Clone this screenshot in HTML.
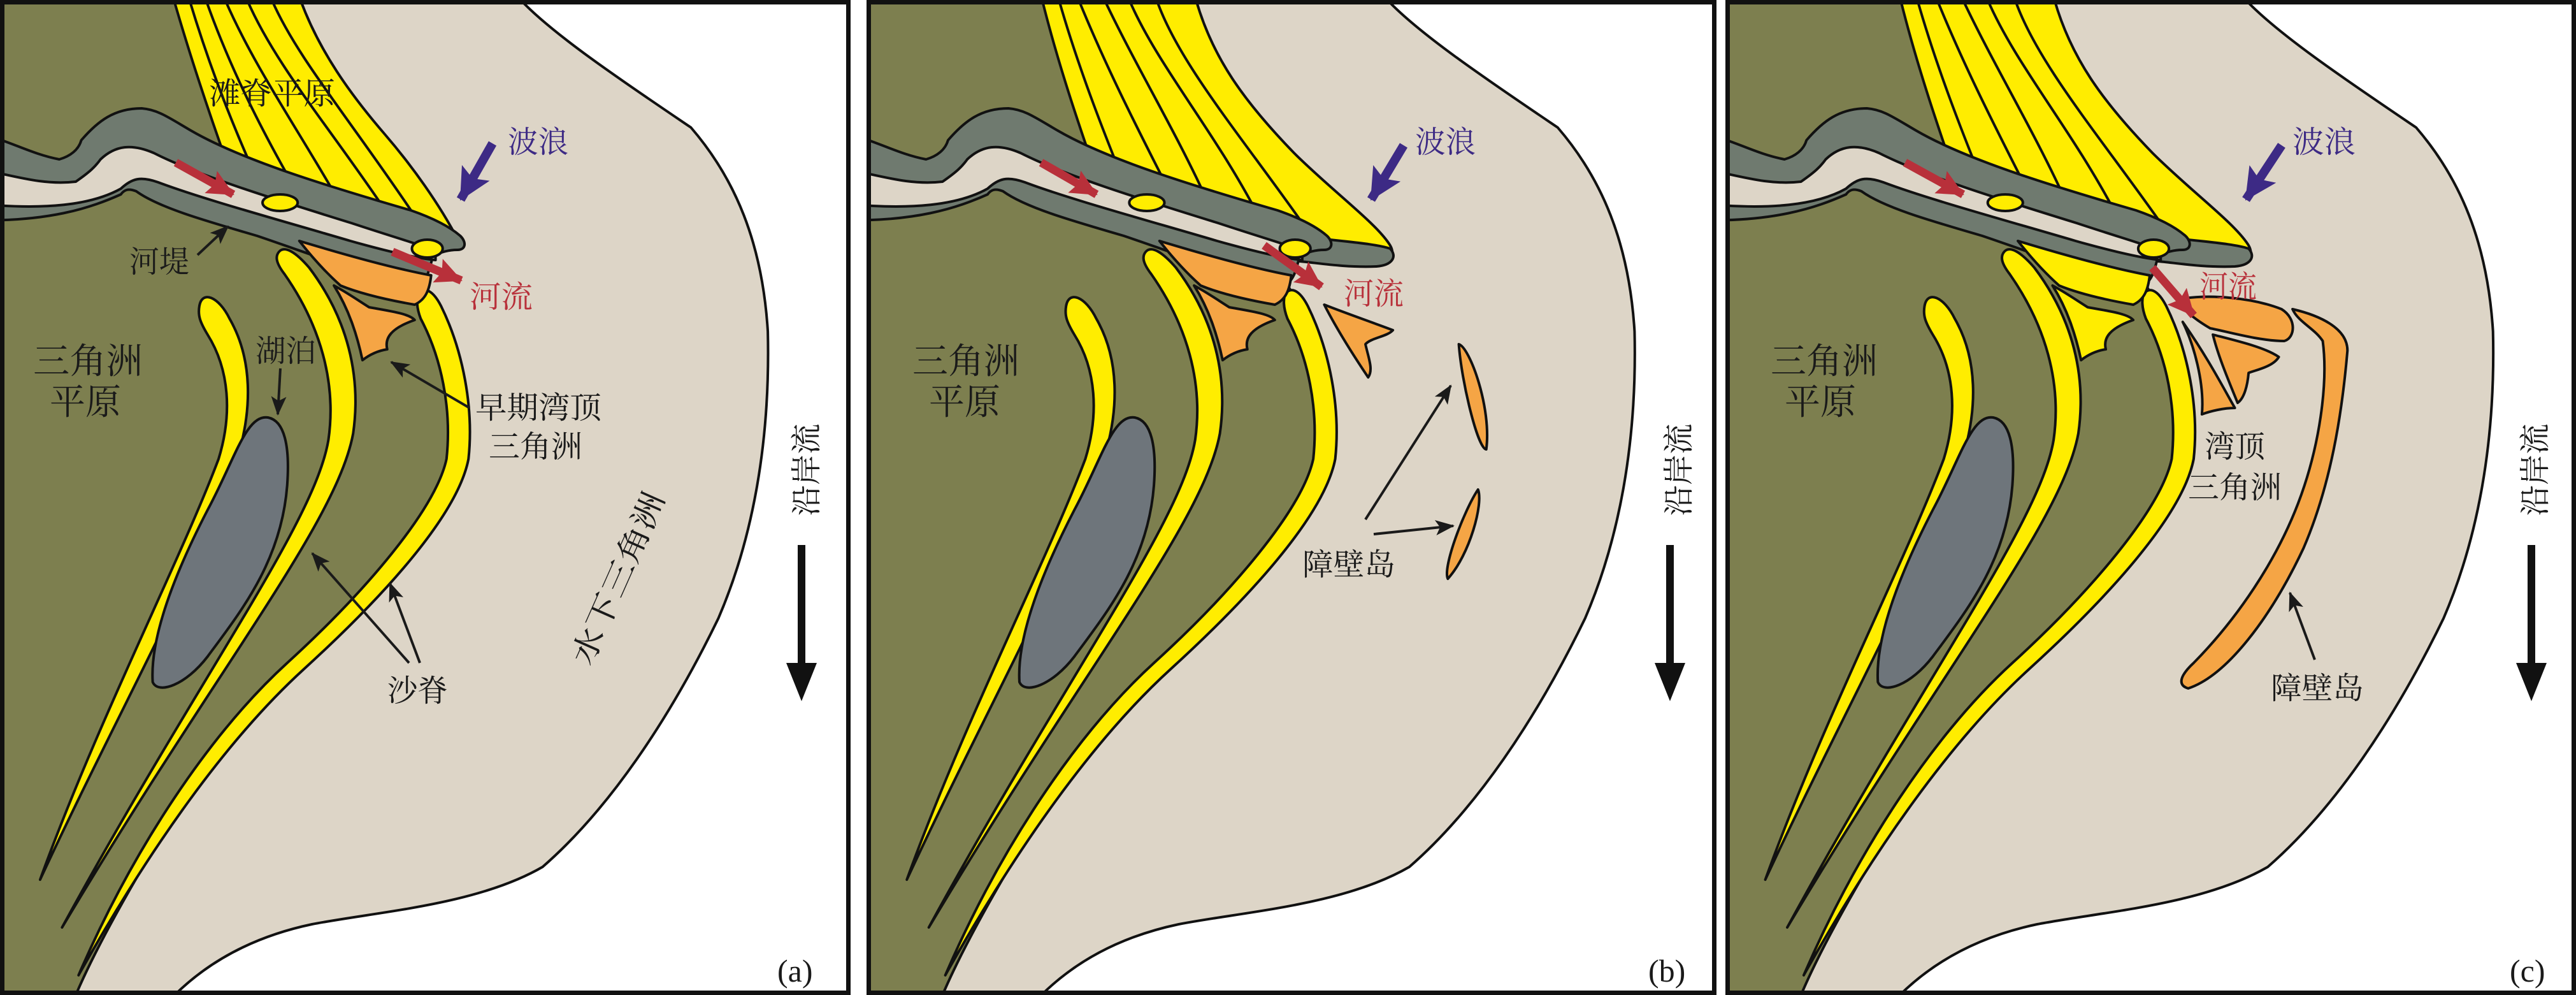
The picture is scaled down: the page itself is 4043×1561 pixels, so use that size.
<!DOCTYPE html>
<html><head><meta charset="utf-8">
<style>
html,body{margin:0;padding:0;background:#fff;}
svg{display:block;}
text{font-family:"Liberation Serif","Noto Serif CJK SC","Noto Sans CJK SC",serif;}
</style></head>
<body>
<svg width="4043" height="1561" viewBox="0 0 4043 1561" xmlns="http://www.w3.org/2000/svg">
<defs>
<clipPath id="cA" clipPathUnits="userSpaceOnUse"><rect x="0" y="0" width="1335" height="1561"/></clipPath>
<clipPath id="cB" clipPathUnits="userSpaceOnUse"><rect x="1360" y="0" width="1334" height="1561"/></clipPath>
<clipPath id="cC" clipPathUnits="userSpaceOnUse"><rect x="2708" y="0" width="1335" height="1561"/></clipPath>
<marker id="mk" markerUnits="userSpaceOnUse" markerWidth="40" markerHeight="30" refX="28" refY="12" orient="auto"><path d="M0,0 L30,12 L0,24 L7,12 Z" fill="#1a1a1a"/></marker>
<marker id="mr" markerUnits="userSpaceOnUse" markerWidth="50" markerHeight="44" refX="40" refY="20" orient="auto"><path d="M0,0 L42,20 L0,40 L7,20 Z" fill="#b8303a"/></marker>
<marker id="mp" markerUnits="userSpaceOnUse" markerWidth="60" markerHeight="60" refX="48" refY="25" orient="auto"><path d="M0,0 L50,25 L0,50 L10,25 Z" fill="#3d2a85"/></marker>

<g id="base1">
 <rect x="-50" y="0" width="1700" height="1561" fill="#fff"/>
 <path d="M600,0 L960,0 C1020,55 1150,130 1270,200 C1350,280 1400,380 1410,520 C1415,700 1380,850 1320,970 C1230,1130 1120,1270 1000,1360 C880,1420 700,1430 580,1450 C470,1470 390,1510 330,1561 L-50,1561 L-50,0 Z" fill="#ddd5c7" stroke="#111" stroke-width="4" vector-effect="non-scaling-stroke"/>
 <path d="M-50,0 L500,0 L580,150 L700,300 L780,450 C830,520 865,610 862,690 C855,770 780,860 680,950 C540,1070 400,1180 300,1320 C230,1420 180,1500 150,1561 L-50,1561 Z" fill="#7d7f4f" stroke="#111" stroke-width="4" vector-effect="non-scaling-stroke"/>
</g>

<g id="base2" stroke="#111" stroke-width="4" stroke-linejoin="round">
 <path vector-effect="non-scaling-stroke" fill="#6f7a6f" d="M-50,205 C20,215 60,240 120,250 C140,245 155,235 160,220 C190,190 220,170 270,170 C300,172 320,185 360,205 C450,250 600,290 760,330 C800,342 830,355 850,370 C862,380 860,392 845,392 C830,392 815,395 800,402 C795,420 790,440 775,446 C700,440 600,405 480,370 C380,345 300,325 260,300 C245,295 238,298 232,305 C180,325 100,350 -50,345 Z"/>
 <path vector-effect="non-scaling-stroke" fill="#ddd5c7" d="M-50,262 C20,270 80,292 150,285 C175,270 185,262 195,250 C222,228 252,225 292,240 C372,275 502,310 652,350 C722,370 770,382 805,393 L805,408 C770,405 720,395 650,378 C520,345 380,312 300,286 C268,276 252,280 232,296 C182,320 100,332 -50,318 Z"/>
 <ellipse vector-effect="non-scaling-stroke" cx="522" cy="318" rx="32" ry="13" fill="#ffed00"/>
 <path vector-effect="non-scaling-stroke" fill="#ffed00" d="M375,480 C380,455 410,465 430,500 C470,560 475,640 440,730 C380,880 220,1130 85,1380 C190,1130 340,880 410,720 C435,650 430,580 390,525 C376,505 372,495 375,480 Z"/>
 <path vector-effect="non-scaling-stroke" fill="#ffed00" d="M520,395 C530,385 550,395 575,420 C645,500 670,590 655,680 C625,820 405,1050 125,1455 C375,1060 585,820 610,690 C625,600 595,510 530,430 C514,412 513,402 520,395 Z"/>
 <path vector-effect="non-scaling-stroke" fill="#ffed00" d="M775,460 C785,450 800,455 815,480 C855,550 875,640 865,720 C845,810 705,940 565,1050 C425,1160 285,1330 155,1530 C255,1330 395,1150 535,1040 C675,930 805,800 825,720 C835,640 815,560 778,500 C770,482 770,468 775,460 Z"/>
 <path vector-effect="non-scaling-stroke" fill="#6e757b" d="M500,655 C530,660 540,700 535,760 C525,880 450,960 390,1030 C350,1075 300,1090 290,1070 C285,1000 330,900 390,800 C440,720 460,650 500,655 Z"/>
</g>

<g id="fanO" stroke="#111" stroke-width="4" stroke-linejoin="round" fill="#f5a545">
 <path vector-effect="non-scaling-stroke" d="M545,378 C610,395 710,420 785,432 C782,455 775,470 755,478 C715,472 660,462 620,448 C590,425 565,400 545,378 Z"/>
 <path vector-effect="non-scaling-stroke" d="M608,448 C635,485 650,525 660,565 C675,555 690,550 705,548 C700,530 712,515 755,502 C745,492 710,488 672,482 C650,470 630,458 608,448 Z"/>
</g>
<g id="fanY" stroke="#111" stroke-width="4" stroke-linejoin="round" fill="#ffed00">
 <path vector-effect="non-scaling-stroke" d="M545,378 C610,395 710,420 785,432 C782,455 775,470 755,478 C715,472 660,462 620,448 C590,425 565,400 545,378 Z"/>
 <path vector-effect="non-scaling-stroke" d="M608,448 C635,485 650,525 660,565 C675,555 690,550 705,548 C700,530 712,515 755,502 C745,492 710,488 672,482 C650,470 630,458 608,448 Z"/>
</g>

<g id="strandA" stroke="#111" stroke-width="4" fill="none">
 <path vector-effect="non-scaling-stroke" fill="#ffed00" d="M315,-5 L545,-5 C580,80 640,150 700,210 C750,260 800,320 835,378 C840,392 830,392 815,388 L420,272 C390,200 350,100 315,-5 Z"/>
 <path vector-effect="non-scaling-stroke" d="M345,0 C380,100 420,190 470,285"/>
 <path vector-effect="non-scaling-stroke" d="M375,0 C420,110 480,210 540,300"/>
 <path vector-effect="non-scaling-stroke" d="M410,0 C460,100 540,200 610,305"/>
 <path vector-effect="non-scaling-stroke" d="M450,0 C500,100 600,200 700,328"/>
 <path vector-effect="non-scaling-stroke" d="M495,0 C540,90 640,190 760,345"/>
</g>
<g id="strandB" stroke="#111" stroke-width="4" fill="none">
 <path vector-effect="non-scaling-stroke" fill="#ffed00" d="M330,-5 L610,-5 C640,90 700,160 790,240 C860,300 940,350 965,385 C975,400 965,410 945,405 L800,380 L430,275 C400,200 360,100 330,-5 Z"/>
 <path vector-effect="non-scaling-stroke" d="M362,0 C395,100 440,200 480,285"/>
 <path vector-effect="non-scaling-stroke" d="M398,0 C450,110 510,210 560,295"/>
 <path vector-effect="non-scaling-stroke" d="M445,0 C500,100 570,200 625,302"/>
 <path vector-effect="non-scaling-stroke" d="M490,0 C540,100 640,200 720,330"/>
 <path vector-effect="non-scaling-stroke" d="M540,0 C580,100 700,220 815,362"/>
 <path vector-effect="non-scaling-stroke" fill="#6f7a6f" d="M790,368 C850,378 930,380 965,390 C978,402 970,416 940,418 C880,420 830,412 800,410 Z"/>
</g>
</defs>

<!-- Panel A -->
<g clip-path="url(#cA)">
 <g transform="translate(0,0) scale(0.862,1)">
  <g transform="translate(-12,0)"><use href="#base1"/></g>
  <use href="#strandA"/>
  <g transform="translate(-12,0)"><use href="#base2"/></g>
  <use href="#fanO"/>
  <ellipse cx="778" cy="390" rx="28" ry="14" fill="#ffed00" stroke="#111" stroke-width="4" vector-effect="non-scaling-stroke"/>
 </g>
 <rect x="3.5" y="3.5" width="1328" height="1554" fill="none" stroke="#111" stroke-width="7"/>
</g>

<!-- Panel B -->
<g clip-path="url(#cB)">
 <g transform="translate(1350,0) scale(0.862,1)">
  <use href="#base1"/>
  <use href="#strandB"/>
  <use href="#base2"/>
  <use href="#fanO"/>
  <g stroke="#111" stroke-width="4" fill="#f5a545" stroke-linejoin="round">
   <ellipse vector-effect="non-scaling-stroke" cx="792" cy="390" rx="28" ry="14" fill="#ffed00"/>
   <path vector-effect="non-scaling-stroke" d="M845,478 C880,490 930,505 970,518 C960,528 930,530 920,540 C925,560 935,580 925,592 C900,560 870,520 845,478 Z"/>
   <path vector-effect="non-scaling-stroke" d="M1090,540 C1110,545 1150,640 1140,705 C1125,705 1095,600 1090,540 Z"/>
   <path vector-effect="non-scaling-stroke" d="M1125,768 C1135,790 1110,870 1070,908 C1060,890 1100,800 1125,768 Z"/>
  </g>
 </g>
 <rect x="1363.5" y="3.5" width="1327" height="1554" fill="none" stroke="#111" stroke-width="7"/>
</g>

<!-- Panel C -->
<g clip-path="url(#cC)">
 <g transform="translate(2693,0) scale(0.862,1)">
  <g transform="translate(5,0)"><use href="#base1"/><use href="#strandB"/><use href="#base2"/><use href="#fanY"/></g>
  <g stroke="#111" stroke-width="4" fill="#f5a545" stroke-linejoin="round">
   <ellipse vector-effect="non-scaling-stroke" cx="797" cy="390" rx="28" ry="14" fill="#ffed00"/>
   <path vector-effect="non-scaling-stroke" d="M840,470 C900,460 980,468 1030,485 C1058,500 1055,530 1035,535 C990,535 930,520 900,515 C870,500 850,485 840,470 Z"/>
   <path vector-effect="non-scaling-stroke" d="M905,525 C950,535 1000,545 1025,560 C1015,575 985,580 970,585 C968,605 962,625 950,632 C935,600 915,560 905,525 Z"/>
   <path vector-effect="non-scaling-stroke" d="M850,505 C870,540 890,600 885,650 C900,645 925,640 945,640 C925,610 895,560 850,505 Z"/>
   <path vector-effect="non-scaling-stroke" d="M1050,485 C1100,495 1150,515 1150,550 C1140,650 1120,760 1070,860 C1010,970 930,1060 860,1080 C840,1075 845,1060 870,1040 C950,970 1020,880 1060,790 C1100,700 1115,600 1105,535 C1090,515 1060,505 1050,485 Z"/>
  </g>
 </g>
 <rect x="2711.5" y="3.5" width="1328" height="1554" fill="none" stroke="#111" stroke-width="7"/>
</g>

<!-- red & purple arrows -->
<g stroke="#b8303a" stroke-width="13" fill="none">
 <line x1="276" y1="255" x2="366" y2="305" marker-end="url(#mr)"/>
 <line x1="616" y1="395" x2="724" y2="440" marker-end="url(#mr)"/>
 <line x1="1634" y1="255" x2="1721" y2="305" marker-end="url(#mr)"/>
 <line x1="1984" y1="385" x2="2074" y2="450" marker-end="url(#mr)"/>
 <line x1="2990" y1="255" x2="3081" y2="305" marker-end="url(#mr)"/>
 <line x1="3378" y1="420" x2="3443" y2="495" marker-end="url(#mr)"/>
</g>
<g stroke="#3d2a85" stroke-width="14" fill="none">
 <line x1="773" y1="225" x2="723" y2="313" marker-end="url(#mp)"/>
 <line x1="2203" y1="228" x2="2152" y2="313" marker-end="url(#mp)"/>
 <line x1="3581" y1="228" x2="3525" y2="313" marker-end="url(#mp)"/>
</g>
<!-- thin black arrows -->
<g stroke="#1a1a1a" stroke-width="4" fill="none">
 <line x1="310" y1="400" x2="358" y2="355" marker-end="url(#mk)"/>
 <line x1="440" y1="578" x2="436" y2="650" marker-end="url(#mk)"/>
 <line x1="737" y1="640" x2="614" y2="568" marker-end="url(#mk)"/>
 <line x1="642" y1="1040" x2="490" y2="868" marker-end="url(#mk)"/>
 <line x1="659" y1="1040" x2="612" y2="915" marker-end="url(#mk)"/>
 <line x1="2143" y1="815" x2="2277" y2="605" marker-end="url(#mk)"/>
 <line x1="2156" y1="838" x2="2281" y2="825" marker-end="url(#mk)"/>
 <line x1="3633" y1="1035" x2="3594" y2="930" marker-end="url(#mk)"/>
</g>
<!-- longshore current arrows -->
<g fill="#111">
 <rect x="1252" y="855" width="12" height="190"/><polygon points="1234,1040 1282,1040 1258,1100"/>
 <rect x="2615" y="855" width="12" height="190"/><polygon points="2597,1040 2645,1040 2621,1100"/>
 <rect x="3967" y="855" width="12" height="190"/><polygon points="3949,1040 3997,1040 3973,1100"/>
</g>

<!-- text -->
<g font-size="48" fill="#1a1a1a">
 <text x="328" y="163" textLength="198" lengthAdjust="spacingAndGlyphs">滩脊平原</text>
 <text x="203" y="427" textLength="94" lengthAdjust="spacingAndGlyphs">河堤</text>
 <text x="52" y="586" font-size="56" textLength="172" lengthAdjust="spacingAndGlyphs">三角洲</text>
 <text x="78" y="650" font-size="56" textLength="112" lengthAdjust="spacingAndGlyphs">平原</text>
 <text x="401" y="567" textLength="95" lengthAdjust="spacingAndGlyphs">湖泊</text>
 <text x="746" y="656" textLength="198" lengthAdjust="spacingAndGlyphs">早期湾顶</text>
 <text x="767" y="717" textLength="147" lengthAdjust="spacingAndGlyphs">三角洲</text>
 <text x="608" y="1100" textLength="95" lengthAdjust="spacingAndGlyphs">沙脊</text>
 <text transform="translate(970,907) rotate(-66)" text-anchor="middle" y="17" textLength="290" lengthAdjust="spacingAndGlyphs">水下三角洲</text>

 <text x="1432" y="586" font-size="56" textLength="168" lengthAdjust="spacingAndGlyphs">三角洲</text>
 <text x="1458" y="650" font-size="56" textLength="112" lengthAdjust="spacingAndGlyphs">平原</text>
 <text x="2044" y="902" textLength="146" lengthAdjust="spacingAndGlyphs">障壁岛</text>

 <text x="2779" y="586" font-size="56" textLength="168" lengthAdjust="spacingAndGlyphs">三角洲</text>
 <text x="2801" y="650" font-size="56" textLength="112" lengthAdjust="spacingAndGlyphs">平原</text>
 <text x="3460" y="717" textLength="95" lengthAdjust="spacingAndGlyphs">湾顶</text>
 <text x="3434" y="781" textLength="147" lengthAdjust="spacingAndGlyphs">三角洲</text>
 <text x="3564" y="1096" textLength="146" lengthAdjust="spacingAndGlyphs">障壁岛</text>

 <text transform="translate(1265,737) rotate(-90)" text-anchor="middle" y="17" textLength="145" lengthAdjust="spacingAndGlyphs">沿岸流</text>
 <text transform="translate(2634,737) rotate(-90)" text-anchor="middle" y="17" textLength="145" lengthAdjust="spacingAndGlyphs">沿岸流</text>
 <text transform="translate(3978,737) rotate(-90)" text-anchor="middle" y="17" textLength="145" lengthAdjust="spacingAndGlyphs">沿岸流</text>

 <text x="1220" y="1540" font-size="50">(a)</text>
 <text x="2587" y="1540" font-size="50">(b)</text>
 <text x="3939" y="1540" font-size="50">(c)</text>
</g>
<g font-size="48" fill="#3d2a85">
 <text x="797" y="239" textLength="95" lengthAdjust="spacingAndGlyphs">波浪</text>
 <text x="2221" y="239" textLength="95" lengthAdjust="spacingAndGlyphs">波浪</text>
 <text x="3598" y="239" textLength="99" lengthAdjust="spacingAndGlyphs">波浪</text>
</g>
<g font-size="48" fill="#b8303a">
 <text x="737" y="482" textLength="99" lengthAdjust="spacingAndGlyphs">河流</text>
 <text x="2109" y="477" textLength="94" lengthAdjust="spacingAndGlyphs">河流</text>
 <text x="3452" y="466" textLength="90" lengthAdjust="spacingAndGlyphs">河流</text>
</g>
</svg>
</body></html>
